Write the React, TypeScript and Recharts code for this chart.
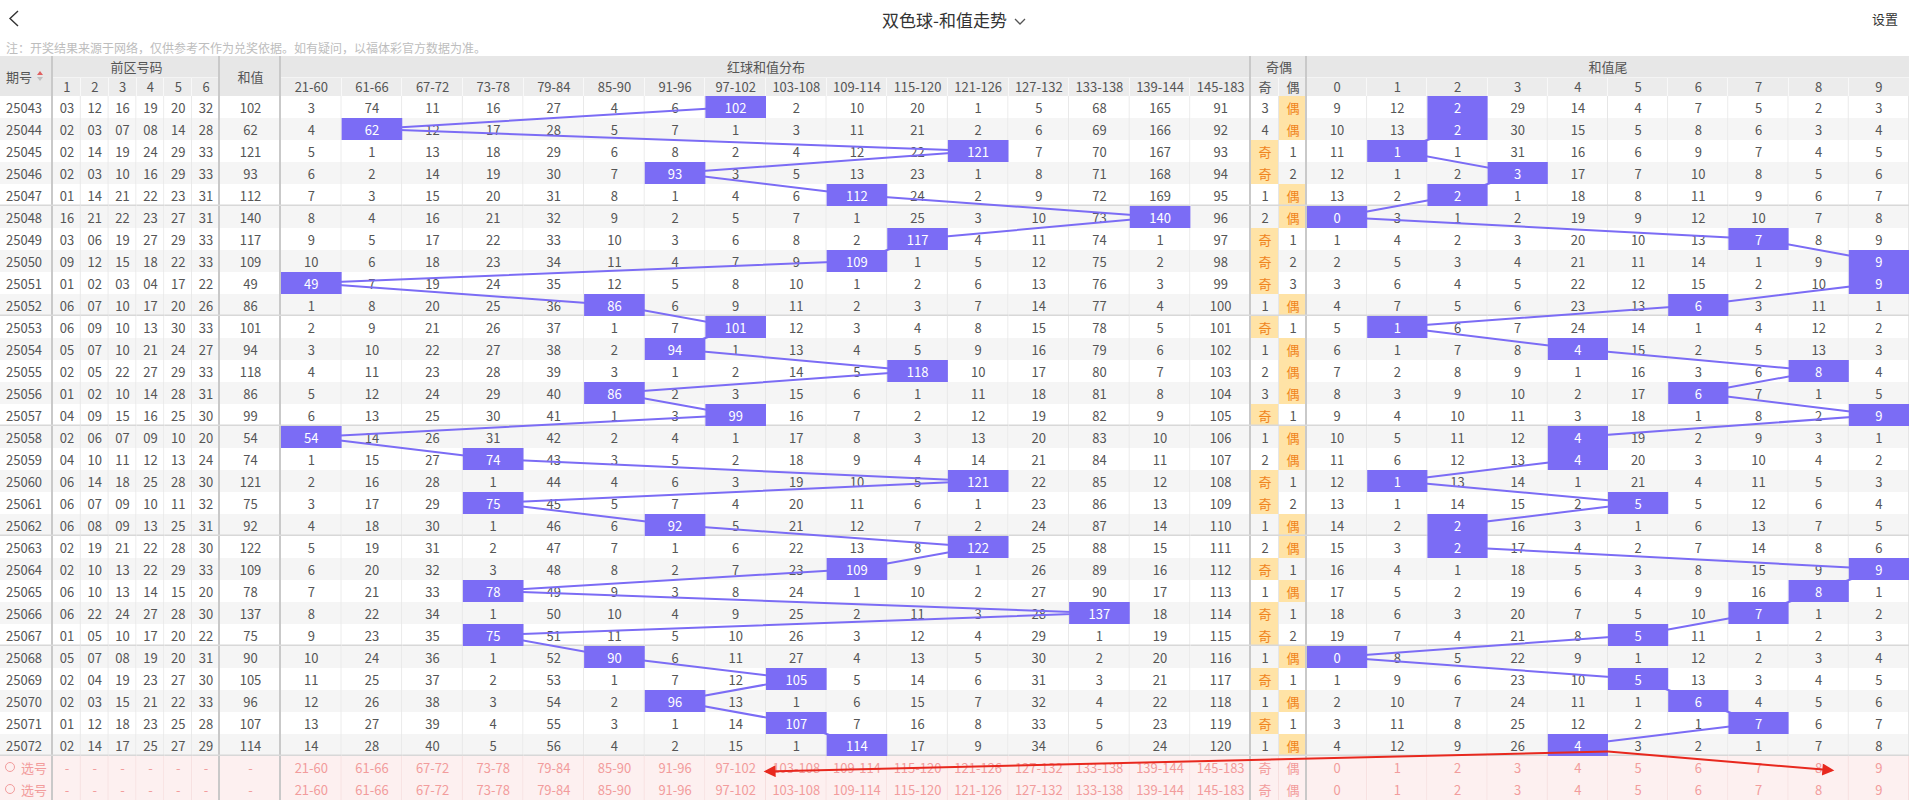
import React from "react";
import { ScatterChart, Scatter, XAxis, YAxis } from "recharts";

// ---- data ----
const periods = [
  "25043", "25044", "25045", "25046", "25047", "25048", "25049", "25050", "25051", "25052",
  "25053", "25054", "25055", "25056", "25057", "25058", "25059", "25060", "25061", "25062",
  "25063", "25064", "25065", "25066", "25067", "25068", "25069", "25070", "25071", "25072",
];

const frontNumbers = [
  ["03", "12", "16", "19", "20", "32"],
  ["02", "03", "07", "08", "14", "28"],
  ["02", "14", "19", "24", "29", "33"],
  ["02", "03", "10", "16", "29", "33"],
  ["01", "14", "21", "22", "23", "31"],
  ["16", "21", "22", "23", "27", "31"],
  ["03", "06", "19", "27", "29", "33"],
  ["09", "12", "15", "18", "22", "33"],
  ["01", "02", "03", "04", "17", "22"],
  ["06", "07", "10", "17", "20", "26"],
  ["06", "09", "10", "13", "30", "33"],
  ["05", "07", "10", "21", "24", "27"],
  ["02", "05", "22", "27", "29", "33"],
  ["01", "02", "10", "14", "28", "31"],
  ["04", "09", "15", "16", "25", "30"],
  ["02", "06", "07", "09", "10", "20"],
  ["04", "10", "11", "12", "13", "24"],
  ["06", "14", "18", "25", "28", "30"],
  ["06", "07", "09", "10", "11", "32"],
  ["06", "08", "09", "13", "25", "31"],
  ["02", "19", "21", "22", "28", "30"],
  ["02", "10", "13", "22", "29", "33"],
  ["06", "10", "13", "14", "15", "20"],
  ["06", "22", "24", "27", "28", "30"],
  ["01", "05", "10", "17", "20", "22"],
  ["05", "07", "08", "19", "20", "31"],
  ["02", "04", "19", "23", "27", "30"],
  ["02", "03", "15", "21", "22", "33"],
  ["01", "12", "18", "23", "25", "28"],
  ["02", "14", "17", "25", "27", "29"],
];

const sums = [
  102, 62, 121, 93, 112, 140, 117, 109, 49, 86,
  101, 94, 118, 86, 99, 54, 74, 121, 75, 92,
  122, 109, 78, 137, 75, 90, 105, 96, 107, 114,
];

const numberHeaders = ["1", "2", "3", "4", "5", "6"];

const sumRanges = [
  "21-60", "61-66", "67-72", "73-78", "79-84", "85-90", "91-96", "97-102",
  "103-108", "109-114", "115-120", "121-126", "127-132", "133-138", "139-144", "145-183",
];

// omission counts per range column (hit cell shows the sum)
const rangeMiss = [
  [3, 74, 11, 16, 27, 4, 6, 102, 2, 10, 20, 1, 5, 68, 165, 91],
  [4, 62, 12, 17, 28, 5, 7, 1, 3, 11, 21, 2, 6, 69, 166, 92],
  [5, 1, 13, 18, 29, 6, 8, 2, 4, 12, 22, 121, 7, 70, 167, 93],
  [6, 2, 14, 19, 30, 7, 93, 3, 5, 13, 23, 1, 8, 71, 168, 94],
  [7, 3, 15, 20, 31, 8, 1, 4, 6, 112, 24, 2, 9, 72, 169, 95],
  [8, 4, 16, 21, 32, 9, 2, 5, 7, 1, 25, 3, 10, 73, 140, 96],
  [9, 5, 17, 22, 33, 10, 3, 6, 8, 2, 117, 4, 11, 74, 1, 97],
  [10, 6, 18, 23, 34, 11, 4, 7, 9, 109, 1, 5, 12, 75, 2, 98],
  [49, 7, 19, 24, 35, 12, 5, 8, 10, 1, 2, 6, 13, 76, 3, 99],
  [1, 8, 20, 25, 36, 86, 6, 9, 11, 2, 3, 7, 14, 77, 4, 100],
  [2, 9, 21, 26, 37, 1, 7, 101, 12, 3, 4, 8, 15, 78, 5, 101],
  [3, 10, 22, 27, 38, 2, 94, 1, 13, 4, 5, 9, 16, 79, 6, 102],
  [4, 11, 23, 28, 39, 3, 1, 2, 14, 5, 118, 10, 17, 80, 7, 103],
  [5, 12, 24, 29, 40, 86, 2, 3, 15, 6, 1, 11, 18, 81, 8, 104],
  [6, 13, 25, 30, 41, 1, 3, 99, 16, 7, 2, 12, 19, 82, 9, 105],
  [54, 14, 26, 31, 42, 2, 4, 1, 17, 8, 3, 13, 20, 83, 10, 106],
  [1, 15, 27, 74, 43, 3, 5, 2, 18, 9, 4, 14, 21, 84, 11, 107],
  [2, 16, 28, 1, 44, 4, 6, 3, 19, 10, 5, 121, 22, 85, 12, 108],
  [3, 17, 29, 75, 45, 5, 7, 4, 20, 11, 6, 1, 23, 86, 13, 109],
  [4, 18, 30, 1, 46, 6, 92, 5, 21, 12, 7, 2, 24, 87, 14, 110],
  [5, 19, 31, 2, 47, 7, 1, 6, 22, 13, 8, 122, 25, 88, 15, 111],
  [6, 20, 32, 3, 48, 8, 2, 7, 23, 109, 9, 1, 26, 89, 16, 112],
  [7, 21, 33, 78, 49, 9, 3, 8, 24, 1, 10, 2, 27, 90, 17, 113],
  [8, 22, 34, 1, 50, 10, 4, 9, 25, 2, 11, 3, 28, 137, 18, 114],
  [9, 23, 35, 75, 51, 11, 5, 10, 26, 3, 12, 4, 29, 1, 19, 115],
  [10, 24, 36, 1, 52, 90, 6, 11, 27, 4, 13, 5, 30, 2, 20, 116],
  [11, 25, 37, 2, 53, 1, 7, 12, 105, 5, 14, 6, 31, 3, 21, 117],
  [12, 26, 38, 3, 54, 2, 96, 13, 1, 6, 15, 7, 32, 4, 22, 118],
  [13, 27, 39, 4, 55, 3, 1, 14, 107, 7, 16, 8, 33, 5, 23, 119],
  [14, 28, 40, 5, 56, 4, 2, 15, 1, 114, 17, 9, 34, 6, 24, 120],
];

const oddEvenLabels = ["奇", "偶"];

// [odd, even]; 0 = hit
const oddEvenMiss = [
  [3, 0], [4, 0], [0, 1], [0, 2], [1, 0], [2, 0], [0, 1], [0, 2], [0, 3], [1, 0],
  [0, 1], [1, 0], [2, 0], [3, 0], [0, 1], [1, 0], [2, 0], [0, 1], [0, 2], [1, 0],
  [2, 0], [0, 1], [1, 0], [0, 1], [0, 2], [1, 0], [0, 1], [1, 0], [0, 1], [1, 0],
];

const tailLabels = ["0", "1", "2", "3", "4", "5", "6", "7", "8", "9"];

// omission counts per tail column (hit cell shows the tail digit)
const tailMiss = [
  [9, 12, 2, 29, 14, 4, 7, 5, 2, 3],
  [10, 13, 2, 30, 15, 5, 8, 6, 3, 4],
  [11, 1, 1, 31, 16, 6, 9, 7, 4, 5],
  [12, 1, 2, 3, 17, 7, 10, 8, 5, 6],
  [13, 2, 2, 1, 18, 8, 11, 9, 6, 7],
  [0, 3, 1, 2, 19, 9, 12, 10, 7, 8],
  [1, 4, 2, 3, 20, 10, 13, 7, 8, 9],
  [2, 5, 3, 4, 21, 11, 14, 1, 9, 9],
  [3, 6, 4, 5, 22, 12, 15, 2, 10, 9],
  [4, 7, 5, 6, 23, 13, 6, 3, 11, 1],
  [5, 1, 6, 7, 24, 14, 1, 4, 12, 2],
  [6, 1, 7, 8, 4, 15, 2, 5, 13, 3],
  [7, 2, 8, 9, 1, 16, 3, 6, 8, 4],
  [8, 3, 9, 10, 2, 17, 6, 7, 1, 5],
  [9, 4, 10, 11, 3, 18, 1, 8, 2, 9],
  [10, 5, 11, 12, 4, 19, 2, 9, 3, 1],
  [11, 6, 12, 13, 4, 20, 3, 10, 4, 2],
  [12, 1, 13, 14, 1, 21, 4, 11, 5, 3],
  [13, 1, 14, 15, 2, 5, 5, 12, 6, 4],
  [14, 2, 2, 16, 3, 1, 6, 13, 7, 5],
  [15, 3, 2, 17, 4, 2, 7, 14, 8, 6],
  [16, 4, 1, 18, 5, 3, 8, 15, 9, 9],
  [17, 5, 2, 19, 6, 4, 9, 16, 8, 1],
  [18, 6, 3, 20, 7, 5, 10, 7, 1, 2],
  [19, 7, 4, 21, 8, 5, 11, 1, 2, 3],
  [0, 8, 5, 22, 9, 1, 12, 2, 3, 4],
  [1, 9, 6, 23, 10, 5, 13, 3, 4, 5],
  [2, 10, 7, 24, 11, 1, 6, 4, 5, 6],
  [3, 11, 8, 25, 12, 2, 1, 7, 6, 7],
  [4, 12, 9, 26, 4, 3, 2, 1, 7, 8],
];

// ---- layout ----
const W = 1909;
const H = 805;
const ROW_H = 22;
const HEAD_TOP = 56;
const HEAD1 = 21;
const HEAD2 = 19;
const BODY_TOP = HEAD_TOP + HEAD1 + HEAD2;
const BODY_ROWS = periods.length + 2;

const PURPLE = "#7b6cf5";
const TEXT = "#555";
const THICK = "#c9c9c9";
const THIN = "#e6e6e6";
const PINK_BG = "#fdf0f0";
const PINK_TEXT = "#f29c9c";
const RED = "#e8281e";
const FONT = '"Noto Sans CJK SC", "Noto Sans", sans-serif';

type Col = { group: string; idx: number; x0: number; w: number; end: boolean };
const columns: Col[] = [];
let cursor = 0;
const addCol = (group: string, idx: number, w: number, end: boolean) => {
  columns.push({ group, idx, x0: cursor, w, end });
  cursor += w;
};
addCol("period", 0, 53, true);
numberHeaders.forEach((_, i) => addCol("num", i, 167 / 6, i === numberHeaders.length - 1));
addCol("sum", 0, 61, true);
sumRanges.forEach((_, i) => addCol("range", i, 970 / 16, i === sumRanges.length - 1));
oddEvenLabels.forEach((_, i) => addCol("oe", i, 28, i === oddEvenLabels.length - 1));
tailLabels.forEach((_, i) => addCol("tail", i, (W - 1307) / 10, false));

const colOf = (group: string, idx = 0) => columns.find((c) => c.group === group && c.idx === idx)!;
const groupSpan = (group: string) => {
  const cs = columns.filter((c) => c.group === group);
  const last = cs[cs.length - 1];
  return { x0: cs[0].x0, x1: last.x0 + last.w };
};
const rangeBounds = sumRanges.map((s) => s.split("-").map(Number));

// ---- build cells ----
type Cell = { x: number; y: number; w: number; row: number; text: string; kind: string; end: boolean; sep: boolean };
const baseCells: Cell[] = [];
const hitCells: Cell[] = [];
const rangeLine: { x: number; y: number }[] = [];
const tailLine: { x: number; y: number }[] = [];

const mk = (col: Col, row: number, text: string, kind: string): Cell => ({
  x: col.x0 + col.w / 2,
  y: row + 0.5,
  w: col.w,
  row,
  text,
  kind,
  end: col.end,
  sep: (row + 1) % 5 === 0 && row < periods.length,
});

periods.forEach((p, r) => {
  baseCells.push(mk(colOf("period"), r, p, "period"));
  frontNumbers[r].forEach((n, i) => baseCells.push(mk(colOf("num", i), r, n, "plain")));
  baseCells.push(mk(colOf("sum"), r, String(sums[r]), "plain"));
  rangeMiss[r].forEach((v, i) => {
    const [lo, hi] = rangeBounds[i];
    const hit = sums[r] >= lo && sums[r] <= hi;
    const c = mk(colOf("range", i), r, String(v), hit ? "slot" : "plain");
    baseCells.push(c);
    if (hit) {
      hitCells.push(c);
      rangeLine.push({ x: c.x, y: c.y });
    }
  });
  oddEvenMiss[r].forEach((v, i) => {
    baseCells.push(mk(colOf("oe", i), r, v === 0 ? oddEvenLabels[i] : String(v), v === 0 ? "oeHit" : "plain"));
  });
  tailMiss[r].forEach((v, i) => {
    const hit = sums[r] % 10 === i;
    const c = mk(colOf("tail", i), r, String(v), hit ? "slot" : "plain");
    baseCells.push(c);
    if (hit) {
      hitCells.push(c);
      tailLine.push({ x: c.x, y: c.y });
    }
  });
});

[0, 1].forEach((k) => {
  const r = periods.length + k;
  baseCells.push(mk(colOf("period"), r, "选号", "pick"));
  numberHeaders.forEach((_, i) => baseCells.push(mk(colOf("num", i), r, "-", "footer")));
  baseCells.push(mk(colOf("sum"), r, "-", "footer"));
  sumRanges.forEach((s, i) => baseCells.push(mk(colOf("range", i), r, s, "footer")));
  oddEvenLabels.forEach((s, i) => baseCells.push(mk(colOf("oe", i), r, s, "footer")));
  tailLabels.forEach((s, i) => baseCells.push(mk(colOf("tail", i), r, s, "footer")));
});

// annotation arrows (anchored on table cells)
const t4 = colOf("tail", 4);
const r8 = colOf("range", 8);
const t8 = colOf("tail", 8);
const arrowStart = { x: t4.x0 + t4.w, y: periods.length - 0.2 };
const arrowLeft = [arrowStart, { x: r8.x0, y: periods.length + 0.7 }];
const arrowRight = [arrowStart, { x: t8.x0 + t8.w * 0.72, y: periods.length + 0.65 }];

// ---- shapes ----
const EmptyShape = () => <g />;

function BaseCell(props: any) {
  const { cx, cy, payload } = props;
  const c: Cell = payload;
  if (cx == null || cy == null) return <g />;
  const x = cx - c.w / 2;
  const y = cy - ROW_H / 2;
  const footer = c.row >= periods.length;
  let fill = footer ? PINK_BG : c.row % 2 === 1 ? "#f5f5f5" : "#ffffff";
  let color = footer ? PINK_TEXT : TEXT;
  if (c.kind === "oeHit") {
    fill = "#ffe3a6";
    color = "#f0841c";
  }
  return (
    <g>
      <rect x={x} y={y} width={c.w} height={ROW_H} fill={fill} />
      {c.end ? (
        <rect x={x + c.w - 2} y={y} width={2} height={ROW_H} fill={THICK} />
      ) : (
        <rect x={x + c.w - 1} y={y} width={1} height={ROW_H} fill={footer ? "#f6dede" : THIN} />
      )}
      {c.sep && <rect x={x} y={y + ROW_H - 1.5} width={c.w} height={1.5} fill="#d8d8d8" />}
      {c.kind === "pick" ? (
        <g>
          <circle cx={x + 10} cy={cy} r={4.5} fill="none" stroke={PINK_TEXT} strokeWidth={1} />
          <text x={x + 21} y={cy} dominantBaseline="central" fontSize={13} fill={PINK_TEXT}>
            {c.text}
          </text>
        </g>
      ) : c.kind === "slot" ? null : (
        <text
          x={c.kind === "period" ? x + 6 : cx}
          y={cy}
          textAnchor={c.kind === "period" ? "start" : "middle"}
          dominantBaseline="central"
          fontSize={13}
          fill={color}
        >
          {c.text}
        </text>
      )}
    </g>
  );
}

function HitCell(props: any) {
  const { cx, cy, payload } = props;
  const c: Cell = payload;
  if (cx == null || cy == null) return <g />;
  return (
    <g>
      <rect x={cx - c.w / 2} y={cy - ROW_H / 2} width={c.w} height={ROW_H} fill={PURPLE} />
      <text x={cx} y={cy} textAnchor="middle" dominantBaseline="central" fontSize={13} fill="#fff">
        {c.text}
      </text>
    </g>
  );
}

// ---- header (html) ----
function HeaderCell(p: { x0: number; x1: number; top: number; h: number; bg: string; children?: React.ReactNode; left?: boolean }) {
  return (
    <div
      style={{
        position: "absolute",
        left: p.x0,
        top: p.top,
        width: p.x1 - p.x0,
        height: p.h,
        background: p.bg,
        display: "flex",
        alignItems: "center",
        justifyContent: p.left ? "flex-start" : "center",
        paddingLeft: p.left ? 6 : 0,
        boxSizing: "border-box",
        fontSize: 13,
        color: TEXT,
        whiteSpace: "nowrap",
      }}
    >
      {p.children}
    </div>
  );
}

function TableHeader() {
  const H1BG = "#e7e7e7";
  const H2BG = "#ececec";
  const t1 = HEAD_TOP;
  const t2 = HEAD_TOP + HEAD1;
  const groups: [string, string, string[]][] = [
    ["num", "前区号码", numberHeaders],
    ["range", "红球和值分布", sumRanges],
    ["oe", "奇偶", oddEvenLabels],
    ["tail", "和值尾", tailLabels],
  ];
  const per = colOf("period");
  const sum = colOf("sum");
  return (
    <>
      <HeaderCell x0={per.x0} x1={per.x0 + per.w} top={t1} h={HEAD1 + HEAD2} bg={H1BG} left>
        <span>期号</span>
        <svg width={10} height={14} style={{ marginLeft: 3 }}>
          <path d="M2,6 L5,2 L8,6 Z" fill="#e06060" />
          <path d="M2,8 L5,12 L8,8 Z" fill="#c0c0c0" />
        </svg>
      </HeaderCell>
      <HeaderCell x0={sum.x0} x1={sum.x0 + sum.w} top={t1} h={HEAD1 + HEAD2} bg={H1BG}>
        和值
      </HeaderCell>
      {groups.map(([g, title, labels]) => {
        const s = groupSpan(g);
        return (
          <React.Fragment key={g}>
            <HeaderCell x0={s.x0} x1={s.x1} top={t1} h={HEAD1} bg={H1BG}>
              {title}
            </HeaderCell>
            {labels.map((l, i) => {
              const c = colOf(g, i);
              return (
                <HeaderCell key={l} x0={c.x0} x1={c.x0 + c.w} top={t2} h={HEAD2} bg={H2BG}>
                  {l}
                </HeaderCell>
              );
            })}
            {labels.slice(0, -1).map((l, i) => {
              const c = colOf(g, i);
              return (
                <div
                  key={"s" + l}
                  style={{ position: "absolute", left: c.x0 + c.w - 1, top: t2, width: 1, height: HEAD2, background: "#f8f8f8" }}
                />
              );
            })}
            <div style={{ position: "absolute", left: s.x0, top: t2, width: s.x1 - s.x0, height: 1, background: "#f4f4f4" }} />
          </React.Fragment>
        );
      })}
      {columns
        .filter((c) => c.end)
        .map((c) => (
          <div
            key={"t" + c.group}
            style={{ position: "absolute", left: c.x0 + c.w - 2, top: t1, width: 2, height: HEAD1 + HEAD2, background: THICK }}
          />
        ))}
    </>
  );
}

export default function App() {
  return (
    <div style={{ position: "relative", width: W, height: H, overflow: "hidden", background: "#fff", fontFamily: FONT }}>
      <style>{"body{margin:0}"}</style>
      <svg width={0} height={0} style={{ position: "absolute" }}>
        <defs>
          <marker id="redArrow" viewBox="0 0 10 10" refX="8" refY="5" markerWidth="7" markerHeight="6" orient="auto">
            <path d="M0,0 L10,5 L0,10 Z" fill={RED} />
          </marker>
        </defs>
      </svg>

      {/* top bar */}
      <svg width={24} height={30} style={{ position: "absolute", left: 4, top: 4 }}>
        <polyline points="14,7 6,14.5 14,22" fill="none" stroke="#333" strokeWidth={1.4} />
      </svg>
      <div
        style={{
          position: "absolute",
          left: 0,
          top: 8,
          width: W,
          textAlign: "center",
          fontSize: 17,
          color: "#333",
          lineHeight: "24px",
        }}
      >
        双色球-和值走势
        <svg width={14} height={10} style={{ marginLeft: 6, verticalAlign: "middle" }}>
          <polyline points="2,2 7,7 12,2" fill="none" stroke="#555" strokeWidth={1.3} />
        </svg>
      </div>
      <div style={{ position: "absolute", right: 11, top: 9, fontSize: 13, color: "#333", lineHeight: "20px" }}>设置</div>
      <div style={{ position: "absolute", left: 6, top: 40, fontSize: 12, color: "#bdbdbd", lineHeight: "16px" }}>
        注：开奖结果来源于网络，仅供参考不作为兑奖依据。如有疑问，以福体彩官方数据为准。
      </div>

      <TableHeader />

      <div style={{ position: "absolute", left: 0, top: BODY_TOP }}>
        <ScatterChart width={W} height={BODY_ROWS * ROW_H} margin={{ top: 0, right: 0, bottom: 0, left: 0 }}>
          <XAxis type="number" dataKey="x" domain={[0, W]} hide />
          <YAxis type="number" dataKey="y" domain={[0, BODY_ROWS]} reversed hide />
          <Scatter data={baseCells} shape={BaseCell} isAnimationActive={false} />
          <Scatter
            data={rangeLine}
            line={{ stroke: PURPLE, strokeWidth: 2 }}
            shape={EmptyShape}
            isAnimationActive={false}
          />
          <Scatter
            data={tailLine}
            line={{ stroke: PURPLE, strokeWidth: 2 }}
            shape={EmptyShape}
            isAnimationActive={false}
          />
          <Scatter data={hitCells} shape={HitCell} isAnimationActive={false} />
          <Scatter
            data={arrowLeft}
            line={{ stroke: RED, strokeWidth: 2, markerEnd: "url(#redArrow)" }}
            shape={EmptyShape}
            isAnimationActive={false}
          />
          <Scatter
            data={arrowRight}
            line={{ stroke: RED, strokeWidth: 2, markerEnd: "url(#redArrow)" }}
            shape={EmptyShape}
            isAnimationActive={false}
          />
        </ScatterChart>
      </div>
    </div>
  );
}
